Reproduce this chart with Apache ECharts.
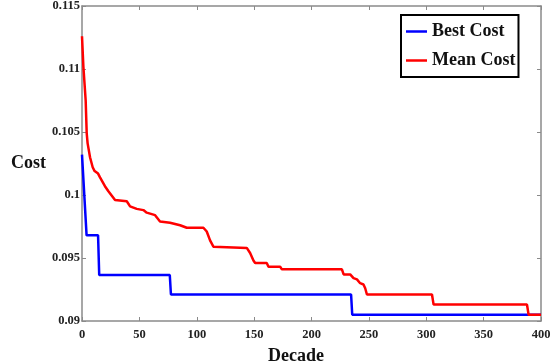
<!DOCTYPE html>
<html>
<head>
<meta charset="utf-8">
<script src="https://cdn.jsdelivr.net/npm/echarts@6/dist/echarts.min.js"></script>
<style>
  html, body { margin: 0; padding: 0; background: #fff; }
  #chart { width: 557px; height: 364px; }
</style>
</head>
<body>
<div id="chart"></div>
<script>
// decade breakpoints and cost values
const bestDecade = [0, 4, 14, 15, 76.5, 77.5, 234.5, 235.5, 400]
const bestCost = [0.1032, 0.0968, 0.0968, 0.09365, 0.09365, 0.0921, 0.0921, 0.0905, 0.0905]

const meanDecade = [0, 1.2, 3.2, 4.1, 4.9, 7, 9.3, 11, 14, 15.7, 20, 23, 28.8, 39, 41.9, 47.7,
  53.5, 56.4, 63.7, 68, 76.7, 85.5, 91.3, 105.8, 108.7, 111.6, 114.5, 116, 143.6, 146.5,
  149.4, 150.9, 161, 162.5, 172.7, 174.2, 226.5, 228, 233.7, 236.6, 239.6, 242.4, 245.3,
  246.8, 248.3, 305, 306.4, 387.8, 389.2, 400]
const meanCost = [0.1126, 0.1102, 0.1075, 0.1049, 0.1041, 0.1030, 0.1022, 0.1019, 0.1017,
  0.1014, 0.1007, 0.1003, 0.0996, 0.0995, 0.0991, 0.0989, 0.0988, 0.0986, 0.0984, 0.0979,
  0.0978, 0.0976, 0.0974, 0.0974, 0.0971, 0.0964, 0.0959, 0.0958, 0.0958, 0.0954, 0.0948,
  0.0946, 0.0946, 0.0943, 0.0943, 0.0941, 0.0941, 0.0937, 0.0937, 0.0934, 0.0933, 0.0930,
  0.0929, 0.0926, 0.0921, 0.0921, 0.0913, 0.0913, 0.0905, 0.0905]

const xTicks = { min: 0, max: 400, interval: 50 }
const yTicks = { min: 0.09, max: 0.115, interval: 0.005 }

const font = "'Liberation Serif', 'Times New Roman', serif"
const axisGrey = '#8a8a8a'

const pairs = (xs, ys) => xs.map((x, i) => [x, ys[i]])

const chart = echarts.init(document.getElementById('chart'), null, { renderer: 'canvas' })

const boxAxis = {
  axisLine: { show: true, onZero: false, lineStyle: { color: axisGrey, width: 1.5 } },
  axisTick: { show: true, inside: true, length: 4, lineStyle: { color: axisGrey, width: 1 } },
  splitLine: { show: false }
}

chart.setOption({
  animation: false,
  backgroundColor: '#fff',
  grid: { left: 82, right: 16, top: 6, bottom: 43, containLabel: false, outerBoundsMode: 'none' },
  legend: {
    left: 401, top: 15,
    orient: 'vertical',
    data: ['Best Cost', 'Mean Cost'],
    icon: 'rect',
    itemWidth: 21, itemHeight: 2.5,
    itemGap: 10,
    padding: [7, 3, 7, 5],
    borderColor: '#000', borderWidth: 2,
    backgroundColor: '#fff',
    textStyle: { fontFamily: font, fontWeight: 'bold', fontSize: 18, color: '#111', lineHeight: 19 }
  },
  xAxis: [
    {
      type: 'value', ...xTicks, ...boxAxis,
      position: 'bottom',
      name: 'Decade', nameLocation: 'middle', nameGap: 26,
      nameTextStyle: { fontFamily: font, fontWeight: 'bold', fontSize: 18, color: '#111', padding: [0, 31, 0, 0] },
      axisLabel: { fontFamily: font, fontWeight: 'bold', fontSize: 12.5, color: '#222', margin: 7 }
    },
    {
      type: 'value', ...xTicks, ...boxAxis,
      position: 'top',
      axisLabel: { show: false }
    }
  ],
  yAxis: [
    {
      type: 'value', ...yTicks, ...boxAxis,
      position: 'left',
      name: 'Cost', nameLocation: 'middle', nameGap: 31, nameRotate: 0,
      nameTextStyle: { fontFamily: font, fontWeight: 'bold', fontSize: 18, color: '#111' },
      axisLabel: {
        fontFamily: font, fontWeight: 'bold', fontSize: 12.5, color: '#222', margin: 2,
        formatter: v => String(+v.toFixed(3))
      }
    },
    {
      type: 'value', ...yTicks, ...boxAxis,
      position: 'right',
      axisLabel: { show: false }
    }
  ],
  series: [
    {
      name: 'Best Cost', type: 'line',
      data: pairs(bestDecade, bestCost),
      symbol: 'none',
      lineStyle: { color: '#0000ff', width: 2.5 },
      itemStyle: { color: '#0000ff' }
    },
    {
      name: 'Mean Cost', type: 'line',
      data: pairs(meanDecade, meanCost),
      symbol: 'none',
      lineStyle: { color: '#ff0000', width: 2.5 },
      itemStyle: { color: '#ff0000' }
    }
  ]
})
</script>
</body>
</html>
